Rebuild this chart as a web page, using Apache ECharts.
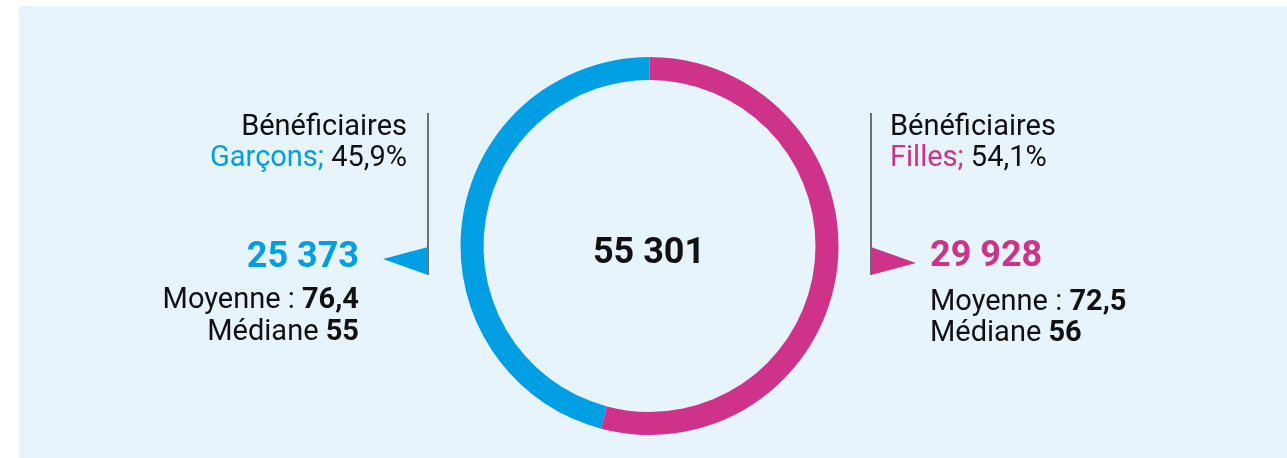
<!DOCTYPE html>
<html>
<head>
<meta charset="UTF-8">
<title>Bénéficiaires</title>
<script src="https://cdn.jsdelivr.net/npm/echarts@6/dist/echarts.min.js"></script>
<style>
  html, body { margin: 0; padding: 0; background: #fff; }
  #chart { width: 1287px; height: 458px; }
</style>
</head>
<body>
<div id="chart"></div>
<script>
// données
var groups = ['Garçons', 'Filles'];
var beneficiaries = [25373, 29928];
var averages = [76.4, 72.5];
var medians = [55, 56];

var colors = ['#009fe3', '#cf3289'];
var FONT = 'Roboto, "Liberation Sans", sans-serif';

function fmtInt(n) {
  return String(n).replace(/\B(?=(\d{3})+(?!\d))/g, ' ');
}
function fmtDec(x) {
  return x.toFixed(1).replace('.', ',');
}

var total = beneficiaries[0] + beneficiaries[1];
var pct = beneficiaries.map(function (v) { return fmtDec(v / total * 100) + '%'; });

// bloc de texte d'un groupe
function block(i, x, align, ys) {
  var reg = { fontFamily: FONT, fontSize: 29, fontWeight: 'normal', fill: '#111' };
  var bold = { fontFamily: FONT, fontSize: 29, fontWeight: 'bold', fill: '#111' };
  return [
    { type: 'text', x: x[0], y: ys[0], style: { text: 'Bénéficiaires', font: '29px ' + FONT, fill: '#111', align: align, verticalAlign: 'middle' } },
    { type: 'text', x: x[0], y: ys[1], style: {
        text: '{c|' + groups[i] + ';} {n|' + pct[i] + '}', align: align, verticalAlign: 'middle',
        font: '29px ' + FONT,
        rich: { c: { fontFamily: FONT, fontSize: 29, fill: colors[i] }, n: reg }
    } },
    { type: 'text', x: x[1], y: ys[2], style: { text: fmtInt(beneficiaries[i]), font: 'bold 36px ' + FONT, fill: colors[i], align: align, verticalAlign: 'middle' } },
    { type: 'text', x: x[1], y: ys[3], style: {
        text: '{l|Moyenne :} {b|' + fmtDec(averages[i]) + '}', align: align, verticalAlign: 'middle',
        font: '29px ' + FONT, rich: { l: reg, b: bold }
    } },
    { type: 'text', x: x[1], y: ys[4], style: {
        text: '{l|Médiane} {b|' + medians[i] + '}', align: align, verticalAlign: 'middle',
        font: '29px ' + FONT, rich: { l: reg, b: bold }
    } }
  ];
}

var myChart = echarts.init(document.getElementById('chart'));

var graphics = [
  { type: 'rect', z: -10, shape: { x: 19, y: 6, width: 1268, height: 452 }, style: { fill: '#e8f4fc' } },
  // traits verticaux
  { type: 'line', shape: { x1: 428, y1: 113, x2: 428, y2: 275 }, style: { stroke: '#6f6f6f', lineWidth: 2 } },
  { type: 'line', shape: { x1: 871, y1: 113, x2: 871, y2: 275 }, style: { stroke: '#6f6f6f', lineWidth: 2 } },
  // flèches
  { type: 'polygon', shape: { points: [[383, 259], [428, 247], [428, 275]] }, style: { fill: colors[0] } },
  { type: 'polygon', shape: { points: [[916, 263], [871, 247], [871, 275]] }, style: { fill: colors[1] } },
  // total au centre
  { type: 'text', x: 649, y: 254, style: { text: fmtInt(total), font: 'bold 36px ' + FONT, fill: '#111', align: 'center', verticalAlign: 'middle' } }
];
graphics = graphics
  .concat(block(0, [407, 359], 'right', [128, 159, 258, 301, 333]))
  .concat(block(1, [890, 930], 'left', [128, 159, 257, 303, 334]));

var option = {
  backgroundColor: '#fff',
  animation: false,
  graphic: graphics,
  series: [{
    type: 'pie',
    silent: true,
    center: [649.5, 246],
    radius: [166, 189],
    startAngle: 90,
    clockwise: false,
    label: { show: false },
    labelLine: { show: false },
    itemStyle: { borderWidth: 0 },
    data: groups.map(function (g, i) {
      return { name: g, value: beneficiaries[i], itemStyle: { color: colors[i] } };
    })
  }]
};

myChart.setOption(option);
</script>
</body>
</html>
